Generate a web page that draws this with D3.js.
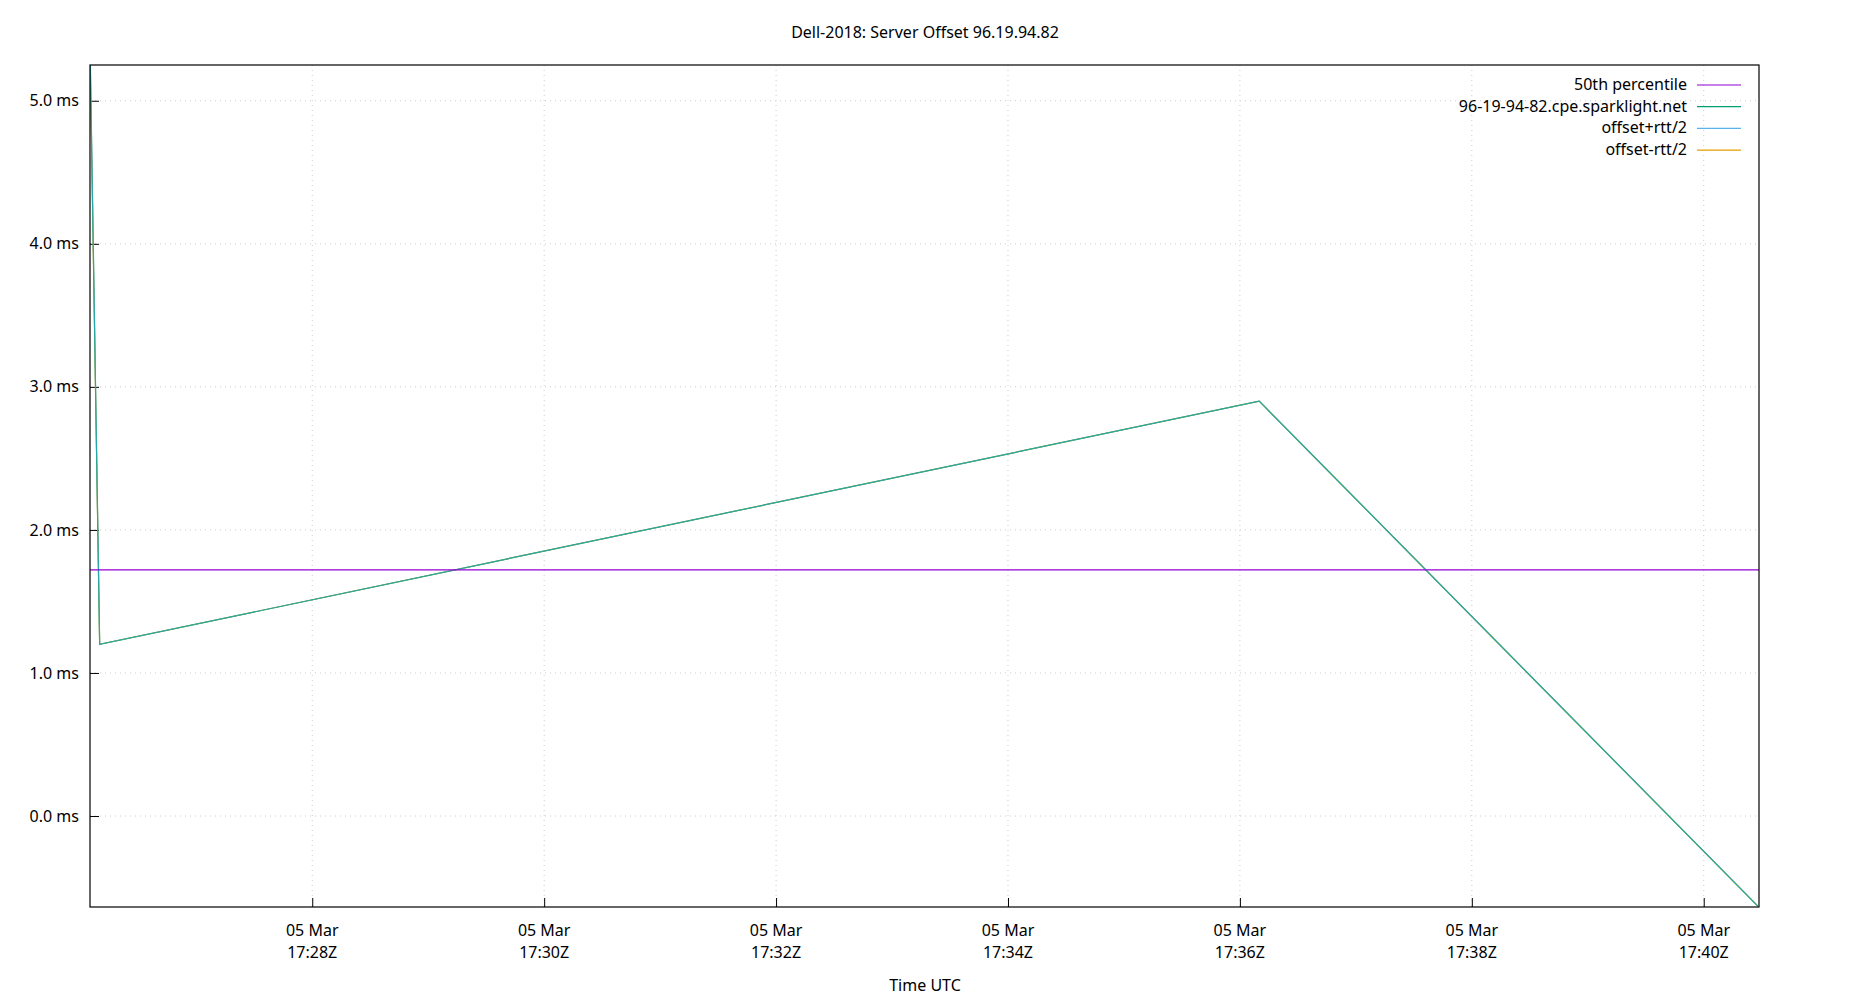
<!DOCTYPE html>
<html><head><meta charset="utf-8">
<script src="https://cdn.jsdelivr.net/npm/d3@7"></script>
<style>body{margin:0;background:#fff}text{font-family:"Noto Sans",sans-serif;fill:#000}</style>
</head><body><svg id="c" width="1850" height="1000"></svg>
<script>
const times = ["2024-03-05T17:26:05Z","2024-03-05T17:26:10Z","2024-03-05T17:36:10Z","2024-03-05T17:40:28Z"];
const offsetMs = [5.4, 1.2, 2.9, -0.63];
const upperMs = [5.45, 1.2, 2.9, -0.63];
const lowerMs = [5.35, 1.2, 2.9, -0.63];
const medianMs = 1.72;
const yTicks = [0,1,2,3,4,5];
const xTicks = ["2024-03-05T17:28:00Z","2024-03-05T17:30:00Z","2024-03-05T17:32:00Z","2024-03-05T17:34:00Z","2024-03-05T17:36:00Z","2024-03-05T17:38:00Z","2024-03-05T17:40:00Z"];
const legend = [["50th percentile","#9400d3"],["96-19-94-82.cpe.sparklight.net","#009e73"],["offset+rtt/2","#56b4e9"],["offset-rtt/2","#e69f00"]];

const L=90,R=1759,T=65,B=907;
const svg=d3.select("#c");
const x=d3.scaleUtc().domain([new Date("2024-03-05T17:26:05Z"),new Date("2024-03-05T17:40:28.6Z")]).range([L,R]);
const y=d3.scaleLinear().domain([-0.636,5.25]).range([B,T]);
const g=svg.append("g");
yTicks.forEach(v=>g.append("line").attr("x1",L).attr("x2",R).attr("y1",y(v)).attr("y2",y(v)).attr("stroke","#ccc").attr("stroke-dasharray","1,4"));
xTicks.forEach(t=>{const xx=x(new Date(t));g.append("line").attr("x1",xx).attr("x2",xx).attr("y1",T).attr("y2",B).attr("stroke","#ccc").attr("stroke-dasharray","1,4");});
const ya=svg.append("g").attr("transform",`translate(${L},0)`).call(d3.axisLeft(y).tickValues(yTicks).tickSize(-9).tickFormat(d=>d3.format(".1f")(d)+" ms"));
ya.select(".domain").remove();
ya.selectAll("text").attr("x",-11).style("font-size","16px").style("font-family","Noto Sans");
const xa=svg.append("g").attr("transform",`translate(0,${B})`).call(d3.axisBottom(x).tickValues(xTicks.map(t=>new Date(t))).tickSize(-9).tickFormat(()=>""));
xa.select(".domain").remove();
xTicks.forEach(t=>{const xx=x(new Date(t));const d=new Date(t);
 svg.append("text").attr("x",xx).attr("y",936).attr("text-anchor","middle").style("font-size","16px").text("05 Mar");
 svg.append("text").attr("x",xx).attr("y",958).attr("text-anchor","middle").style("font-size","16px").text(d3.utcFormat("%H:%M")(d)+"Z");});
svg.append("defs").append("clipPath").attr("id","cp").append("rect").attr("x",L).attr("y",T).attr("width",R-L).attr("height",B-T);
const pl=svg.append("g").attr("clip-path","url(#cp)");
const line=d3.line().x(d=>x(new Date(d[0]))).y(d=>y(d[1]));
pl.append("path").attr("d",line(times.map((t,i)=>[t,lowerMs[i]]))).attr("fill","none").attr("stroke","#e69f00").attr("stroke-width",1.2);
pl.append("path").attr("d",line(times.map((t,i)=>[t,offsetMs[i]]))).attr("fill","none").attr("stroke","#009e73").attr("stroke-width",1.2);
pl.append("path").attr("d",line(times.map((t,i)=>[t,upperMs[i]]))).attr("fill","none").attr("stroke","#56b4e9").attr("stroke-width",1.2).attr("opacity",0.45);
pl.append("line").attr("x1",L).attr("x2",R).attr("y1",y(medianMs)).attr("y2",y(medianMs)).attr("stroke","#9400d3").attr("stroke-width",1.2);
svg.append("rect").attr("x",L).attr("y",T).attr("width",R-L).attr("height",B-T).attr("fill","none").attr("stroke","#000").attr("stroke-width",1.2);
legend.forEach((l,i)=>{const yy=85+i*21.7;
 svg.append("text").attr("x",1687).attr("y",yy+5).attr("text-anchor","end").style("font-size","16px").text(l[0]);
 svg.append("line").attr("x1",1697).attr("x2",1741).attr("y1",yy).attr("y2",yy).attr("stroke",l[1]).attr("stroke-width",1.2);});
svg.append("text").attr("x",925).attr("y",38).attr("text-anchor","middle").style("font-size","16px").text("Dell-2018: Server Offset 96.19.94.82");
svg.append("text").attr("x",925).attr("y",991).attr("text-anchor","middle").style("font-size","16px").text("Time UTC");
</script></body></html>
